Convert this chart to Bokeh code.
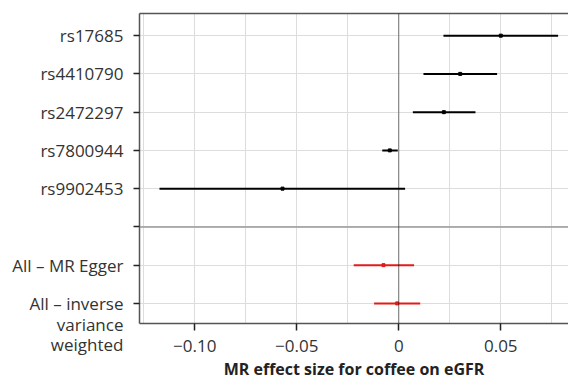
from bokeh.plotting import figure
from bokeh.models import FixedTicker, Span, LinearAxis, Range1d
from bokeh.embed import file_html
from bokeh.resources import INLINE

labels = ["rs17685", "rs4410790", "rs2472297", "rs7800944", "rs9902453",
          "All – MR Egger", "\n\nAll – inverse\nvariance\nweighted"]
positions = [8, 7, 6, 5, 4, 2, 1]
estimate = [0.050, 0.0301, 0.0221, -0.0044, -0.057, -0.0075, -0.0008]
lower = [0.0219, 0.0121, 0.0069, -0.0081, -0.1173, -0.0221, -0.0121]
upper = [0.0781, 0.0482, 0.0376, -0.0005, 0.0031, 0.0075, 0.0105]
colors = ["black", "black", "black", "black", "black", "#e41a1c", "#e41a1c"]
separator_pos = 3
x_ticks = [-0.10, -0.05, 0.0, 0.05]
x_tick_labels = ["−0.10", "−0.05", "0", "0.05"]
x_minor = [-0.125, -0.075, -0.025, 0.025, 0.075]

FONT = "Open Sans"
TXT = "#333333"
X0, X1 = -0.1271, 0.0832

p = figure(width=568, height=382, output_backend="svg", toolbar_location=None,
           x_range=Range1d(X0, X1), y_range=Range1d(0.474, 8.579),
           min_border_left=139, min_border_right=0, min_border_top=13, min_border_bottom=59)
p.outline_line_color = None

# grid
p.xaxis.ticker = FixedTicker(ticks=x_ticks, minor_ticks=x_minor)
p.xgrid.grid_line_color = "#dddddd"
p.xgrid.minor_grid_line_color = "#dddddd"
p.yaxis.ticker = FixedTicker(ticks=positions + [separator_pos])
p.ygrid.grid_line_color = "#dddddd"

# axes styling
p.xaxis.major_label_overrides = {t: l for t, l in zip(x_ticks, x_tick_labels)}
p.yaxis.major_label_overrides = {**{pos: l for pos, l in zip(positions, labels)}, separator_pos: ""}
for ax in (p.xaxis[0], p.yaxis[0]):
    ax.axis_line_color = "#555555"
    ax.axis_line_width = 1.5
    ax.major_tick_line_color = "#222222"
    ax.major_tick_line_width = 1.5
    ax.major_tick_in = 0
    ax.major_tick_out = 7
    ax.minor_tick_line_color = None
    ax.major_label_text_font = FONT
    ax.major_label_text_font_size = "17px"
    ax.major_label_text_color = TXT
p.yaxis.major_tick_out = 6
p.yaxis.major_label_standoff = 10
p.yaxis.major_label_text_line_height = 0.9
p.xaxis.axis_label = "MR effect size for coffee on eGFR"
p.xaxis.axis_label_text_font = FONT
p.xaxis.axis_label_text_font_style = "bold"
p.xaxis.axis_label_text_font_size = "16px"
p.xaxis.axis_label_text_color = "#222222"
p.xaxis.axis_label_standoff = 3
p.xaxis.major_label_standoff = 9

top = LinearAxis(major_tick_line_color=None, minor_tick_line_color=None,
                 major_label_text_font_size="1px", major_label_text_color=None,
                 axis_line_color="#555555", axis_line_width=1.5,
                 ticker=FixedTicker(ticks=[0]), major_label_overrides={0: ""},
                 major_label_standoff=0)
p.add_layout(top, "above")

# separator and zero line
p.add_layout(Span(location=separator_pos, dimension="width", line_color="#999999", line_width=1.5))
p.add_layout(Span(location=0, dimension="height", line_color="black", line_width=1, line_dash="1 1"))

p.segment(x0=lower, x1=upper, y0=positions, y1=positions, line_color=colors, line_width=2)
p.scatter(x=estimate, y=positions, marker="square", size=3, fill_color=colors, line_color=colors)

open("out.html", "w").write(file_html(p, INLINE))
